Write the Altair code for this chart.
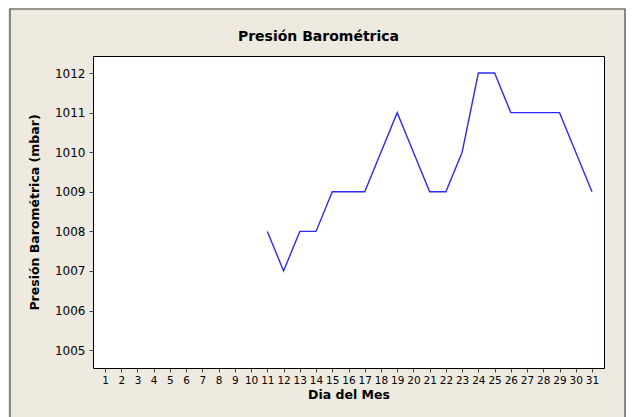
import altair as alt
import pandas as pd

days = list(range(11, 32))
pressure = [1008, 1007, 1008, 1008, 1009, 1009, 1009, 1010, 1011, 1010,
            1009, 1009, 1010, 1012, 1012, 1011, 1011, 1011, 1011, 1010, 1009]
x_ticks = list(range(1, 32))
y_ticks = list(range(1005, 1013))
chart_title = ["Presión Barométrica"]

df = pd.DataFrame({"dia": days, "presion": pressure})

W, H = 511, 312
FONT = "DejaVu Sans"

line = alt.Chart(df).mark_line(color="#2a2aff", strokeWidth=1.4).encode(
    x=alt.X("dia:Q", title="Dia del Mes",
            scale=alt.Scale(domain=[0.26, 31.74], nice=False, zero=False),
            axis=alt.Axis(values=x_ticks, format="d", grid=False, domain=False,
                          tickColor="#444", tickSize=4, labelFontSize=10.5,
                          labelColor="#000", labelFont=FONT, labelFlush=False,
                          labelPadding=3, labelOverlap=False,
                          titleFont=FONT, titleFontSize=12.5, titleFontWeight="bold",
                          titleColor="#000", titlePadding=3)),
    y=alt.Y("presion:Q", title="Presión Barométrica (mbar)",
            scale=alt.Scale(domain=[1004.55, 1012.43], nice=False, zero=False),
            axis=alt.Axis(values=y_ticks, format="d", grid=False, domain=False,
                          tickColor="#444", tickSize=4, labelFontSize=12,
                          labelColor="#000", labelFont=FONT, labelPadding=4,
                          titleFont=FONT, titleFontSize=12.5, titleFontWeight="bold",
                          titleColor="#000", titlePadding=13)),
)

frame = alt.Chart(pd.DataFrame({"a": [0]})).mark_rect(
    filled=False, stroke="#444", strokeWidth=1.2
).encode(
    x=alt.value(-83), x2=alt.value(W + 21),
    y=alt.value(-47), y2=alt.value(H + 60),
)

title = alt.Chart(pd.DataFrame({"t": chart_title})).mark_text(
    font=FONT, fontSize=14, fontWeight="bold", color="#000",
    align="center", baseline="middle"
).encode(
    text="t:N",
    x=alt.value(W / 2 - 30), y=alt.value(-19),
)

chart = alt.layer(frame, title, line).properties(
    width=W, height=H,
    background="#eeeae0",
    padding={"left": 85, "top": 48, "right": 22, "bottom": 49},
    autosize=alt.AutoSizeParams(type="none"),
).configure_view(stroke="#000", strokeWidth=1, fill="#ffffff")

chart.save("out.html", embed_options={"renderer": "svg", "actions": False})
